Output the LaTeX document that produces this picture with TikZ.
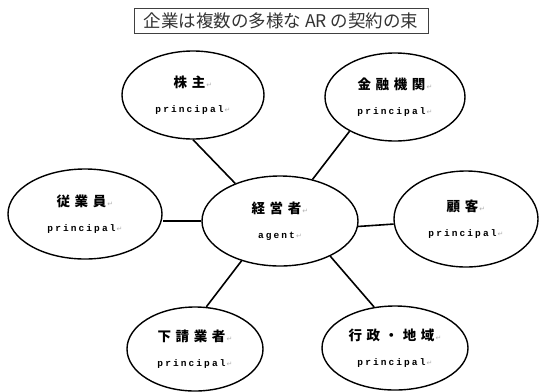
\documentclass[tikz,border=0pt]{standalone}
\usepackage{fontspec}
\usetikzlibrary{shapes.geometric}
\newfontfamily\jpfont{Noto Sans CJK JP}
\newfontfamily\jpwide[LetterSpace=34]{Noto Sans CJK JP}
\newfontfamily\prfont[LetterSpace=22]{Liberation Mono}
\newfontfamily\symfont{DejaVu Sans}
\newcommand{\pmark}{{\symfont\fontsize{7}{7}\selectfont\color{black!30}\,↵}}
\newcommand{\kj}[1]{{\jpwide\bfseries\fontsize{13.5}{25}\selectfont #1}\pmark}
\newcommand{\pr}[1]{{\prfont\bfseries\fontsize{9.5}{25}\selectfont #1}\pmark}
\tikzset{
  party/.style={draw=black, line width=1.4pt, ellipse, inner sep=0pt, align=center,
    font=\fontsize{13.5}{25}\selectfont},
  link/.style={draw=black, line width=1.6pt},
  titlebox/.style={draw=black!75, line width=0.8pt, inner sep=0pt,
    minimum width=294pt, minimum height=25pt, text=black!80,
    font=\jpfont\fontsize{17.5}{20}\selectfont}
}
\begin{document}
\begin{tikzpicture}[x=1pt,y=-1pt]
\useasboundingbox (0,0) rectangle (540,391);
\node[titlebox] (title) at (281,20.5) {企業は複数の多様な\ AR\ の契約の束};
\node[party, minimum width=142pt, minimum height=88pt] (kabu) at (193,95) {\kj{株主}\\\pr{principal}};
\node[party, minimum width=140pt, minimum height=88pt] (kin) at (395,97) {\kj{金融機関}\\\pr{principal}};
\node[party, minimum width=154pt, minimum height=90pt] (jyu) at (85,214) {\kj{従業員}\\\pr{principal}};
\node[party, minimum width=156pt, minimum height=90pt] (kei) at (280,221) {\kj{経営者}\\\pr{agent}};
\node[party, minimum width=144pt, minimum height=96pt] (kyaku) at (466,219) {\kj{顧客}\\\pr{principal}};
\node[party, minimum width=136pt, minimum height=84pt] (shita) at (195,349) {\kj{下請業者}\\\pr{principal}};
\node[party, minimum width=146pt, minimum height=84pt] (gyo) at (395,348) {\kj{行政・地域}\\\pr{principal}};
\draw[link] (kabu.270) -- (kei.140);
\draw[link] (kin.217) -- (kei.52);
\draw[link] (kei.west) -- (jyu.east |- kei.west);
\draw[link] (kei.-4) -- (kyaku.184);
\draw[link] (kei.226) -- (shita.75);
\draw[link] (kei.325) -- (gyo.117);
\end{tikzpicture}
\end{document}
